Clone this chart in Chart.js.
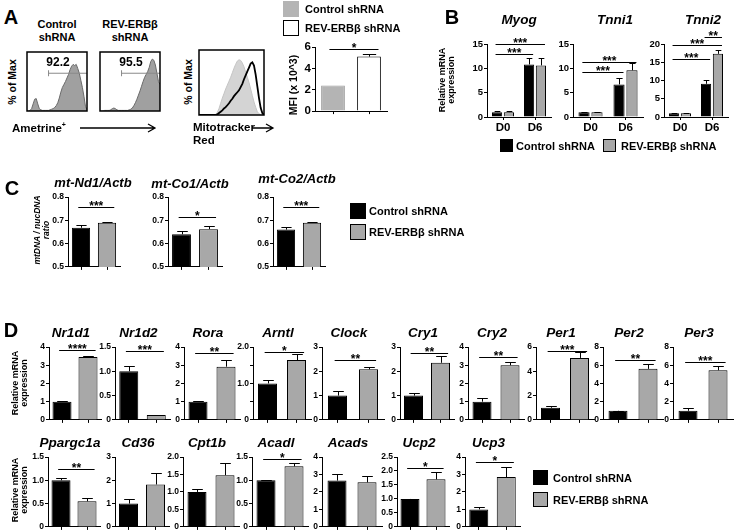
<!DOCTYPE html>
<html>
<head>
<meta charset="utf-8">
<script src="https://cdn.jsdelivr.net/npm/chart.js@4.4.0/dist/chart.umd.min.js"></script>
<style>
  body { margin: 0; background: #fff; }
  #fig { position: relative; width: 740px; height: 531px; overflow: hidden;
         font-family: "Liberation Sans", Arial, sans-serif; font-weight: bold; color: #000; }
  #fig canvas { position: absolute; }
  .t { position: absolute; white-space: nowrap; line-height: 1; text-align: center; }
  .sq { position: absolute; box-sizing: border-box; border: 1px solid #000; }
</style>
</head>
<body>
<div id="fig"></div>
<script>
// ===== data =====
// A: flow histograms, % of max per bin (40 bins)
const ametrineCtrl = [0,0,1,4,12,20,21,12,4,2,1,1,1,1,1,2,3,4,6,9,14,22,32,40,45,50,56,62,70,76,79,77,79,72,64,52,40,25,8,2];
const ametrineRev  = [0,0,0,1,1,1,1,2,4,5,4,2,1,1,1,1,1,1,1,2,3,5,9,14,20,27,34,42,50,57,62,67,74,84,88,86,78,64,50,45];
const gatePct = ['92.2', '95.5'];
const gateFrom = 14, gateTo = 39.5, gateLevel = 64;
const mitoCtrl = [0,0,0,0,0,0,0,0,0,0,1,4,10,18,26,33,40,46,52,58,65,72,78,83,85,84,80,74,66,58,50,40,30,20,12,5,2,0,0,0];
const mitoRev  = [0,0,0,0,0,0,0,0,0,0,0,1,3,5,7,10,12,15,18,22,25,29,32,35,38,43,48,55,61,67,73,79,81,76,62,44,26,11,3,0];

const groups = ['Control shRNA', 'REV-ERBβ shRNA'];
const mfi = [2.4, 5.1];
const mfiErr = [0, 0.25];

// B: myogenic markers
const days = ['D0', 'D6'];
const genesB = ['Myog', 'Tnni1', 'Tnni2'];
const ctrlB    = [[1.0, 10.8], [1.0, 6.7], [1.0, 9.1]];
const ctrlErrB = [[0.15, 1.4], [0.12, 1.4], [0.12, 1.1]];
const revB     = [[1.0, 10.6], [1.0, 9.6], [1.0, 17.3]];
const revErrB  = [[0.15, 1.6], [0.1, 1.5], [0.15, 1.1]];
const yMaxB = [15, 15, 20];
// [fromSeries, fromDay, toSeries, toDay, level, stars]
const sigB = [
  [[0, 0, 1, 1, 15.0, '***'], [0, 0, 0, 1, 12.9, '***']],
  [[0, 0, 1, 1, 11.3, '***'], [0, 0, 0, 1, 9.2, '***']],
  [[0, 1, 1, 1, 21.9, '**'], [0, 0, 1, 1, 19.7, '***'], [0, 0, 0, 1, 15.9, '***']]
];

// C: mtDNA / nucDNA
const genesC = ['mt-Nd1/Actb', 'mt-Co1/Actb', 'mt-Co2/Actb'];
const ctrlC    = [0.668, 0.640, 0.660];
const ctrlErrC = [0.010, 0.012, 0.012];
const revC     = [0.690, 0.662, 0.690];
const revErrC  = [0.004, 0.012, 0.004];
const sigC   = ['***', '*', '***'];
const sigAtC = [0.757, 0.715, 0.757];

// D: clock genes (top row) and metabolic genes (bottom row)
const genesD1   = ['Nr1d1', 'Nr1d2', 'Rora', 'Arntl', 'Clock', 'Cry1', 'Cry2', 'Per1', 'Per2', 'Per3'];
const ctrlD1    = [1.0, 1.0, 1.0, 1.0, 1.0, 1.0, 1.0, 1.0, 1.0, 1.0];
const ctrlErrD1 = [0.02, 0.1, 0.03, 0.1, 0.2, 0.12, 0.2, 0.15, 0.03, 0.3];
const revD1     = [3.45, 0.1, 2.92, 1.64, 2.08, 2.35, 3.0, 5.1, 5.6, 5.45];
const revErrD1  = [0.03, 0.01, 0.37, 0.17, 0.11, 0.3, 0.2, 0.5, 0.55, 0.45];
const yMaxD1    = [4, 1.5, 4, 2, 3, 3, 4, 6, 8, 8];
const yStepD1   = [1, 0.5, 1, 0.5, 1, 1, 1, 2, 2, 2];
const yLblD1    = [1, 0.5, 1, 1, 1, 1, 1, 2, 2, 2];
const sigD1     = ['****', '***', '**', '*', '**', '**', '**', '***', '**', '***'];
const sigAtD1   = [3.84, 1.42, 3.67, 1.87, 2.47, 2.75, 3.47, 5.67, 6.58, 6.36];

const genesD2   = ['Ppargc1a', 'Cd36', 'Cpt1b', 'Acadl', 'Acads', 'Ucp2', 'Ucp3'];
const ctrlD2    = [1.0, 1.0, 1.0, 1.0, 2.65, 1.0, 1.0];
const ctrlErrD2 = [0.05, 0.2, 0.08, 0.01, 0.35, 0.01, 0.15];
const revD2     = [0.55, 1.82, 1.48, 1.3, 2.55, 1.7, 2.85];
const revErrD2  = [0.06, 0.5, 0.34, 0.07, 0.38, 0.25, 0.58];
const yMaxD2    = [1.5, 3, 2, 1.5, 4, 2.5, 4];
const yStepD2   = [0.5, 1, 0.5, 0.5, 1, 0.5, 1];
const sigD2     = ['**', '', '', '*', '', '*', '*'];
const sigAtD2   = [1.25, 0, 0, 1.45, 0, 2.12, 3.73];

// ===== layout (pixel positions of axes) =====
const histBoxes = [[22, 47, 92, 116], [95, 47, 165, 116], [198, 49, 265, 116]];
const axB = [487, 573, 664], wB = [64, 70, 64], titleB = [519, 615, 703];
const axC = [68, 168, 273], wC = [52, 54, 52], titleC = [[93, 182], [190, 183], [297, 178]];
const axD1 = [49, 115, 184, 253, 322, 400, 468, 536, 603, 673];
const wD1  = [52, 55, 56, 58, 62, 54, 56, 58, 60, 60];
const axD2 = [48, 115, 183, 252, 322, 397, 465];
const wD2  = [52, 54, 56, 56, 60, 52, 55];

const BLACK = '#000', GREY = '#a8a8a8';
Chart.defaults.font.family = '"Liberation Sans", Arial, sans-serif';
Chart.defaults.font.weight = 'bold';
Chart.defaults.color = '#000';

const fig = document.getElementById('fig');

function label(html, x, y, size, o = {}) {
  const d = document.createElement('div');
  d.className = 't';
  d.innerHTML = html;
  d.style.left = x + 'px';
  d.style.top = y + 'px';
  d.style.fontSize = size + 'px';
  if (o.italic) d.style.fontStyle = 'italic';
  if (o.lh) d.style.lineHeight = o.lh;
  let tf = o.left ? 'translateY(-50%)' : 'translate(-50%,-50%)';
  if (o.rot) tf += ' rotate(-90deg)';
  d.style.transform = tf;
  fig.appendChild(d);
}

function square(x, y, s, fill, border) {
  const d = document.createElement('div');
  d.className = 'sq';
  Object.assign(d.style, { left: x + 'px', top: y + 'px', width: s + 'px', height: s + 'px', background: fill });
  if (border) d.style.borderColor = border;
  fig.appendChild(d);
}

function arrow(x1, x2, y) {
  const ns = 'http://www.w3.org/2000/svg';
  const s = document.createElementNS(ns, 'svg');
  s.setAttribute('width', 740); s.setAttribute('height', 531);
  s.style.position = 'absolute'; s.style.left = '0'; s.style.top = '0';
  const p = document.createElementNS(ns, 'path');
  p.setAttribute('d', `M${x1},${y} L${x2},${y} M${x2 - 7},${y - 4} L${x2},${y} L${x2 - 7},${y + 4}`);
  p.setAttribute('stroke', '#000'); p.setAttribute('stroke-width', '1.3'); p.setAttribute('fill', 'none');
  s.appendChild(p);
  fig.appendChild(s);
}

function makeCanvas(left, top, w, h) {
  const c = document.createElement('canvas');
  c.width = w; c.height = h;
  c.style.left = left + 'px'; c.style.top = top + 'px';
  c.style.width = w + 'px'; c.style.height = h + 'px';
  fig.appendChild(c);
  return c;
}

// error bars (upper half only, Prism style)
const errBars = {
  id: 'errBars',
  afterDatasetsDraw(chart) {
    const ctx = chart.ctx, y = chart.scales.y;
    ctx.save();
    ctx.strokeStyle = BLACK; ctx.lineWidth = 1;
    chart.data.datasets.forEach((ds, di) => {
      if (!ds.err) return;
      chart.getDatasetMeta(di).data.forEach((bar, i) => {
        const e = ds.err[i];
        if (!e) return;
        const top = Math.round(y.getPixelForValue(ds.data[i] + e)) + 0.5;
        const x = Math.round(bar.x) + 0.5, hw = bar.width * 0.28;
        ctx.beginPath();
        ctx.moveTo(x, bar.y); ctx.lineTo(x, top);
        ctx.moveTo(x - hw, top); ctx.lineTo(x + hw, top);
        ctx.stroke();
      });
    });
    ctx.restore();
  }
};

// significance brackets
const sigBars = {
  id: 'sigBars',
  afterDatasetsDraw(chart) {
    const ctx = chart.ctx, y = chart.scales.y;
    ctx.save();
    ctx.strokeStyle = BLACK; ctx.fillStyle = BLACK; ctx.lineWidth = 1;
    ctx.font = 'bold 12px "Liberation Sans", Arial, sans-serif';
    ctx.textAlign = 'center';
    (chart.data.sig || []).forEach(s => {
      const a = chart.getDatasetMeta(s[0]).data[s[1]];
      const b = chart.getDatasetMeta(s[2]).data[s[3]];
      const py = Math.round(y.getPixelForValue(s[4])) + 0.5;
      const x1 = a.x - a.width * 0.15, x2 = b.x + b.width * 0.4;
      ctx.beginPath(); ctx.moveTo(x1, py); ctx.lineTo(x2, py); ctx.stroke();
      ctx.fillText(s[5], (x1 + x2) / 2, py + 2);
    });
    ctx.restore();
  }
};

const frame = {
  id: 'frame',
  afterDraw(chart) {
    const { ctx, chartArea: a } = chart;
    ctx.save();
    ctx.strokeStyle = BLACK; ctx.lineWidth = 1.5;
    ctx.strokeRect(a.left, a.top, a.right - a.left, a.bottom - a.top);
    ctx.restore();
  }
};

function barChart(p) {
  const PT = p.pt || 22, XB = p.xb || 6, AXW = p.axw || 18;
  const c = makeCanvas(p.axisX - AXW, p.yTop - PT, AXW + p.W + 3, PT + (p.yBot - p.yTop) + XB);
  const lstep = p.labelStep || p.step;
  return new Chart(c, {
    type: 'bar',
    data: { labels: p.labels, datasets: p.datasets, sig: p.sig || [] },
    options: {
      responsive: false, animation: false, devicePixelRatio: 1, events: [],
      layout: { padding: { top: PT, right: 3, left: 0, bottom: 0 } },
      plugins: { legend: { display: false }, tooltip: { enabled: false } },
      datasets: { bar: { categoryPercentage: p.catPct || 1, barPercentage: p.barPct || 0.7,
                         borderColor: BLACK, borderWidth: 1 } },
      scales: {
        x: {
          grid: { display: true, drawOnChartArea: false, offset: false, tickLength: 3, color: BLACK },
          border: { display: true, color: BLACK, width: 1 },
          ticks: { display: !!p.xLabels, color: BLACK, padding: 1, maxRotation: 0,
                   font: { size: p.xfs || 11.5, weight: 'bold' } },
          afterFit: s => { s.height = XB; }
        },
        y: {
          min: p.min || 0, max: p.max,
          ticks: {
            stepSize: p.step, color: BLACK, padding: 1,
            font: { size: p.fs || 8.5, weight: 'bold' },
            callback: v => {
              const r = v / lstep;
              if (Math.abs(r - Math.round(r)) > 1e-6) return '';
              if (v === 0) return '0';
              return (p.dec != null ? v.toFixed(p.dec) : (p.step < 1 ? v.toFixed(1) : String(v)));
            }
          },
          grid: { display: true, drawOnChartArea: false, tickLength: 3, color: BLACK },
          border: { display: true, color: BLACK, width: 1 },
          afterFit: s => { s.width = AXW; }
        }
      }
    },
    plugins: [errBars, sigBars]
  });
}

function histChart(box, datasets) {
  const c = makeCanvas(box[0], box[1], box[2] - box[0], box[3] - box[1]);
  return new Chart(c, {
    type: 'line',
    data: { datasets },
    options: {
      responsive: false, animation: false, devicePixelRatio: 1, events: [],
      layout: { padding: 1 },
      plugins: { legend: { display: false }, tooltip: { enabled: false } },
      elements: { point: { radius: 0 }, line: { tension: 0 } },
      scales: {
        x: { type: 'linear', min: 0, max: 39, display: false },
        y: { min: 0, max: 100, display: false }
      }
    },
    plugins: [frame]
  });
}

const toXY = arr => arr.map((v, i) => ({ x: i, y: v }));
const gateSet = () => ({
  data: [{ x: gateFrom, y: gateLevel }, { x: gateTo, y: gateLevel }],
  borderColor: '#8a8a8a', borderWidth: 1, fill: false,
  pointStyle: 'line', pointRotation: 90, pointRadius: 3, pointBorderColor: '#8a8a8a', pointBorderWidth: 1
});

// ===== Panel A =====
label('A', 11, 17, 20);
label('Control<br>shRNA', 57, 31, 11, { lh: '13px' });
label('REV-ERBβ<br>shRNA', 130, 31, 11, { lh: '13px' });
label('% of Max', 12, 82, 10.5, { rot: true });
label('% of Max', 188, 82, 10.5, { rot: true });

histChart(histBoxes[0], [gateSet(),
  { data: toXY(ametrineCtrl), fill: 'origin', backgroundColor: '#a0a0a0', borderColor: '#6a6a6a', borderWidth: 1 }]);
histChart(histBoxes[1], [gateSet(),
  { data: toXY(ametrineRev), fill: 'origin', backgroundColor: '#a0a0a0', borderColor: '#6a6a6a', borderWidth: 1 }]);
histChart(histBoxes[2], [
  { data: toXY(mitoRev), fill: false, borderColor: BLACK, borderWidth: 1.8 },
  { data: toXY(mitoCtrl), fill: 'origin', backgroundColor: '#d4d4d4', borderColor: '#c4c4c4', borderWidth: 1 }]);
label(gatePct[0], 58, 62, 12);
label(gatePct[1], 131, 62, 12);

label('Ametrine<sup style="font-size:7px">+</sup>', 12, 128, 11.5, { left: true });
arrow(80, 155, 128);
label('Mitotracker', 193, 128, 11.5, { left: true });
label('Red', 193, 141, 11.5, { left: true });
arrow(252, 273, 128);

square(283, 1, 16, '#b4b4b4', '#b4b4b4');
square(283, 20, 16, '#fff');
label(groups[0], 305, 9, 11, { left: true });
label(groups[1], 305, 28, 11, { left: true });
label('MFI (x 10^3)', 293, 85, 10.5, { rot: true });

barChart({
  axisX: 315, yTop: 47, yBot: 113, W: 72, axw: 16, pt: 8, xb: 6,
  labels: groups, max: 6, step: 2, fs: 11.5, barPct: 0.66,
  datasets: [{ data: mfi, err: mfiErr, backgroundColor: ['#b4b4b4', '#fff'],
               borderColor: ['#9a9a9a', BLACK] }],
  sig: [[0, 0, 0, 1, 5.85, '*']]
});

// ===== Panel B =====
label('B', 452, 17, 20);
label('Relative mRNA<br>expression', 447, 80, 9, { rot: true, lh: '9px' });
genesB.forEach((g, i) => {
  label(g, titleB[i], 20, 13.5, { italic: true });
  barChart({
    axisX: axB[i], yTop: 44, yBot: 117, W: wB[i], axw: 18, pt: 24, xb: 17,
    labels: days, xLabels: true, max: yMaxB[i], step: 5, fs: 9.5,
    catPct: 0.74, barPct: 0.86,
    datasets: [
      { data: ctrlB[i], err: ctrlErrB[i], backgroundColor: BLACK },
      { data: revB[i], err: revErrB[i], backgroundColor: GREY }
    ],
    sig: sigB[i]
  });
});
square(500, 139, 13, BLACK);
label(groups[0], 516, 146, 11, { left: true });
square(603, 139, 13, GREY);
label(groups[1], 621, 146, 11, { left: true });

// ===== Panel C =====
label('C', 12, 188, 20);
label('<i>mtDNA / nucDNA</i><br><i>ratio</i>', 42, 230, 8.5, { rot: true, lh: '9px' });
genesC.forEach((g, i) => {
  label(g, titleC[i][0], titleC[i][1], 13, { italic: true });
  barChart({
    axisX: axC[i], yTop: 197, yBot: 267, W: wC[i], axw: 18, pt: 14, xb: 6,
    labels: groups, min: 0.5, max: 0.8, step: 0.1, dec: 1, fs: 8.5, barPct: 0.7,
    datasets: [{ data: [ctrlC[i], revC[i]], err: [ctrlErrC[i], revErrC[i]], backgroundColor: [BLACK, GREY] }],
    sig: [[0, 0, 0, 1, sigAtC[i], sigC[i]]]
  });
});
square(350, 203, 16, BLACK);
label(groups[0], 369, 211, 11, { left: true });
square(350, 224, 16, GREY);
label(groups[1], 369, 232, 11, { left: true });

// ===== Panel D =====
label('D', 11, 330, 20);
label('Relative mRNA<br>expression', 20, 383, 9, { rot: true, lh: '9px' });
label('Relative mRNA<br>expression', 20, 490, 9, { rot: true, lh: '9px' });

genesD1.forEach((g, i) => {
  label(g, axD1[i] + wD1[i] / 2 - 4, 333, 13.5, { italic: true });
  barChart({
    axisX: axD1[i], yTop: 347, yBot: 420, W: wD1[i], axw: 18, pt: 16, xb: 6,
    labels: groups, max: yMaxD1[i], step: yStepD1[i], labelStep: yLblD1[i], fs: 8.5,
    barPct: 38 / wD1[i],
    datasets: [{ data: [ctrlD1[i], revD1[i]], err: [ctrlErrD1[i], revErrD1[i]], backgroundColor: [BLACK, GREY] }],
    sig: [[0, 0, 0, 1, sigAtD1[i], sigD1[i]]]
  });
});

genesD2.forEach((g, i) => {
  label(g, axD2[i] + wD2[i] / 2 - 4, 443, 13.5, { italic: true });
  barChart({
    axisX: axD2[i], yTop: 457, yBot: 527, W: wD2[i], axw: 18, pt: 16, xb: 6,
    labels: groups, max: yMaxD2[i], step: yStepD2[i], fs: 8.5,
    barPct: 38 / wD2[i],
    datasets: [{ data: [ctrlD2[i], revD2[i]], err: [ctrlErrD2[i], revErrD2[i]], backgroundColor: [BLACK, GREY] }],
    sig: sigD2[i] ? [[0, 0, 0, 1, sigAtD2[i], sigD2[i]]] : []
  });
});
square(533, 470, 15, BLACK);
label(groups[0], 553, 478, 11, { left: true });
square(533, 492, 15, GREY);
label(groups[1], 553, 500, 11, { left: true });
</script>
</body>
</html>
